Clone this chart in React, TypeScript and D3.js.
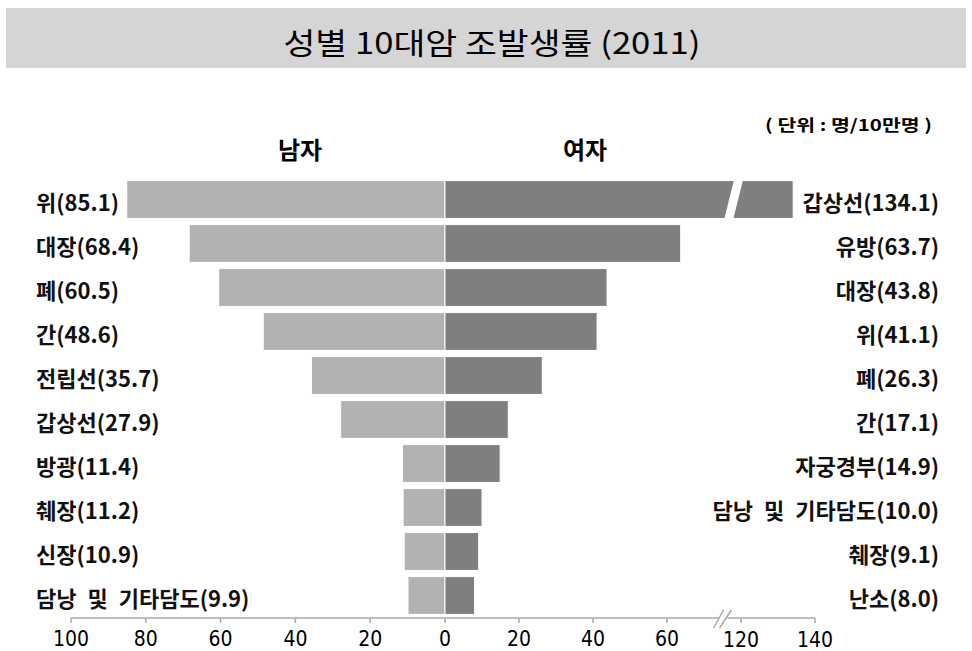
import React from "react";
import * as d3 from "d3";

const title = "성별 10대암 조발생률 (2011)";
const unitText = "( 단위 : 명/10만명 )";
const maleHeader = "남자";
const femaleHeader = "여자";

const maleCancers = ["위", "대장", "폐", "간", "전립선", "갑상선", "방광", "췌장", "신장", "담낭 및 기타담도"];
const maleValues = [85.1, 68.4, 60.5, 48.6, 35.7, 27.9, 11.4, 11.2, 10.9, 9.9];

const femaleCancers = ["갑상선", "유방", "대장", "위", "폐", "간", "자궁경부", "담낭 및 기타담도", "췌장", "난소"];
const femaleValues = [134.1, 63.7, 43.8, 41.1, 26.3, 17.1, 14.9, 10.0, 9.1, 8.0];

const leftTicks = [100, 80, 60, 40, 20, 0];
const rightLowTicks = [20, 40, 60];
const rightHighTicks = [120, 140];

const W = 972;
const H = 651;
const FONT_KR = "'Noto Sans CJK KR', 'Noto Sans', sans-serif";
const FONT_NUM = "'Liberation Sans Narrow', 'DejaVu Sans Condensed', 'Liberation Sans', sans-serif";

export default function App() {
  const cx = 445;
  const xLeft = d3.scaleLinear().domain([0, 100]).range([cx, 71]);
  const xRightLow = d3.scaleLinear().domain([0, 80]).range([cx, 741]);
  const xRightHigh = d3.scaleLinear().domain([120, 140]).range([741, 815]);
  const xRight = (v: number) => (v <= 80 ? xRightLow(v) : xRightHigh(v));
  const axisBreakVal = 75;
  const barBreakVal = 78;

  const y = d3
    .scaleBand<number>()
    .domain(d3.range(maleValues.length))
    .range([177.5, 617.5])
    .paddingInner(0.14)
    .paddingOuter(0.07);

  const axisY = 618;
  const bw = y.bandwidth();

  const bx = xRightLow(barBreakVal);
  const slant = 9;

  return (
    <div style={{ position: "absolute", left: 0, top: 0 }}>
      <svg width={W} height={H} style={{ display: "block", background: "#fff" }}>
        <rect x={6} y={8} width={960} height={60} fill="#d5d5d5" />
        <text
          x={W / 2 + 6}
          y={41}
          textAnchor="middle"
          dominantBaseline="central"
          fontFamily={FONT_KR}
          fontSize={30}
          textLength={417}
          lengthAdjust="spacingAndGlyphs"
          fill="#000"
        >
          {title}
        </text>

        <text x={932} y={124} textAnchor="end" dominantBaseline="central" fontFamily={FONT_KR}
          fontSize={16} fontWeight="bold" textLength={167} lengthAdjust="spacingAndGlyphs">
          {unitText}
        </text>

        <text x={300} y={148} textAnchor="middle" dominantBaseline="central" fontFamily={FONT_KR}
          fontSize={24} fontWeight="bold">{maleHeader}</text>
        <text x={585} y={148} textAnchor="middle" dominantBaseline="central" fontFamily={FONT_KR}
          fontSize={24} fontWeight="bold">{femaleHeader}</text>

        {maleValues.map((v, i) => (
          <rect key={"m" + i} x={xLeft(v)} y={y(i)!} width={cx - xLeft(v)} height={bw}
            fill="#b2b2b2" stroke="#fff" strokeWidth={1} />
        ))}
        {femaleValues.map((v, i) => (
          <rect key={"f" + i} x={cx} y={y(i)!} width={xRight(v) - cx} height={bw}
            fill="#7f7f7f" stroke="#fff" strokeWidth={1} />
        ))}
        {femaleValues.map((v, i) =>
          v > 80 ? (
            <polygon
              key={"brk" + i}
              fill="#fff"
              points={[
                [bx - 4.5 + slant / 2 + 0.5, y(i)! - 1],
                [bx + 4.5 + slant / 2 + 0.5, y(i)! - 1],
                [bx + 4.5 - slant / 2 - 0.5, y(i)! + bw + 1],
                [bx - 4.5 - slant / 2 - 0.5, y(i)! + bw + 1],
              ]
                .map((p) => p.join(","))
                .join(" ")}
            />
          ) : null
        )}

        {maleCancers.map((c, i) => (
          <text key={"ml" + i} x={36} y={y(i)! + bw / 2 + 1} dominantBaseline="central"
            fontFamily={FONT_KR} fontSize={22} fontWeight="bold" fill="#111" wordSpacing={6}>
            {`${c}(${maleValues[i].toFixed(1)})`}
          </text>
        ))}
        {femaleCancers.map((c, i) => (
          <text key={"fl" + i} x={939} y={y(i)! + bw / 2 + 1} textAnchor="end" dominantBaseline="central"
            fontFamily={FONT_KR} fontSize={22} fontWeight="bold" fill="#111" wordSpacing={6}>
            {`${c}(${femaleValues[i].toFixed(1)})`}
          </text>
        ))}

        {/* axis */}
        <g stroke="#a8a8a8" strokeWidth={1.5} fill="none">
          <line x1={xLeft(100)} x2={xRightLow(axisBreakVal) - 4} y1={axisY} y2={axisY} />
          <line x1={xRightLow(axisBreakVal) + 5} x2={xRightHigh(140)} y1={axisY} y2={axisY} />
          <line x1={xRightLow(axisBreakVal) - 9} y1={axisY + 10} x2={xRightLow(axisBreakVal) + 1} y2={axisY - 8} />
          <line x1={xRightLow(axisBreakVal) - 3} y1={axisY + 10} x2={xRightLow(axisBreakVal) + 9} y2={axisY - 8} />
          {leftTicks.map((t) => (
            <line key={"lt" + t} x1={xLeft(t)} x2={xLeft(t)} y1={axisY} y2={axisY + 5} />
          ))}
          {rightLowTicks.map((t) => (
            <line key={"rt" + t} x1={xRightLow(t)} x2={xRightLow(t)} y1={axisY} y2={axisY + 5} />
          ))}
          {rightHighTicks.map((t) => (
            <line key={"rh" + t} x1={xRightHigh(t)} x2={xRightHigh(t)} y1={axisY} y2={axisY + 5} />
          ))}
        </g>
        <g fontFamily={FONT_NUM} fontSize={21} fill="#000" textAnchor="middle">
          {leftTicks.map((t) => (
            <text key={"ltl" + t} x={xLeft(t)} y={646}>{t}</text>
          ))}
          {rightLowTicks.map((t) => (
            <text key={"rtl" + t} x={xRightLow(t)} y={646}>{t}</text>
          ))}
          {rightHighTicks.map((t) => (
            <text key={"rhl" + t} x={xRightHigh(t)} y={647}>{t}</text>
          ))}
        </g>
      </svg>
    </div>
  );
}
